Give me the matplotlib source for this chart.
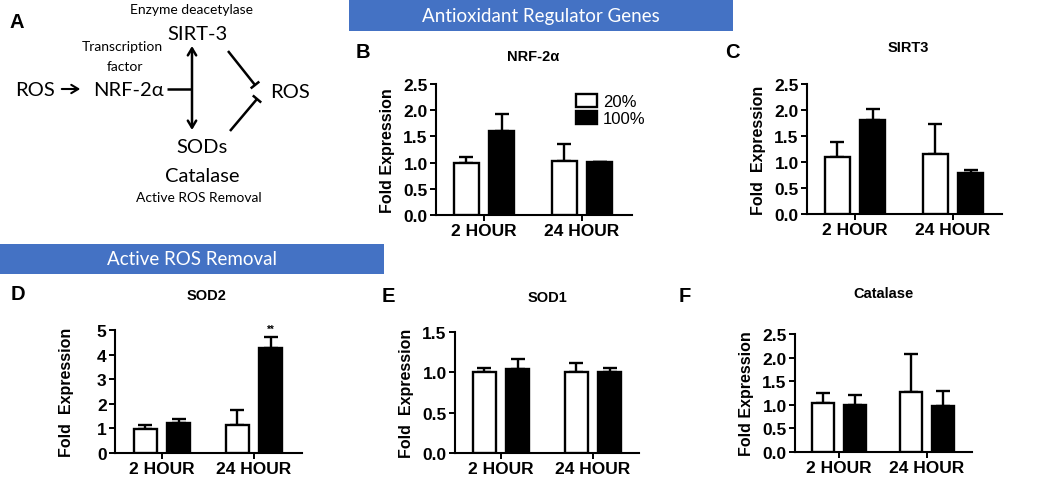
import numpy as np
import matplotlib
matplotlib.use("Agg")
import matplotlib.pyplot as plt
from matplotlib.patches import Rectangle

# ---------------- data ----------------
groups = ["2 HOUR", "24 HOUR"]
series_names = ["20%", "100%"]

nrf2_20 = [1.00, 1.04]
nrf2_20_err = [0.11, 0.32]
nrf2_100 = [1.60, 1.01]
nrf2_100_err = [0.33, 0.01]

sirt3_20 = [1.09, 1.15]
sirt3_20_err = [0.30, 0.59]
sirt3_100 = [1.81, 0.79]
sirt3_100_err = [0.21, 0.06]

sod2_20 = [0.99, 1.14]
sod2_20_err = [0.16, 0.61]
sod2_100 = [1.22, 4.25]
sod2_100_err = [0.18, 0.48]

sod1_20 = [1.00, 1.01]
sod1_20_err = [0.05, 0.11]
sod1_100 = [1.04, 1.01]
sod1_100_err = [0.125, 0.04]

cat_20 = [1.035, 1.27]
cat_20_err = [0.205, 0.81]
cat_100 = [0.99, 0.965]
cat_100_err = [0.22, 0.335]

ticks_25 = [0.0, 0.5, 1.0, 1.5, 2.0, 2.5]
ticks_15 = [0.0, 0.5, 1.0, 1.5]
ticks_5 = [0, 1, 2, 3, 4, 5]

# ---------------- figure ----------------
W, H = 1050, 485
fig = plt.figure(figsize=(W / 100, H / 100), dpi=100)
fig.patch.set_facecolor("white")

ov = fig.add_axes([0, 0, 1, 1])
ov.set_xlim(0, W)
ov.set_ylim(H, 0)
ov.axis("off")

BLUE = "#4472C4"
DFONT = "Lato"
BFONT = "Liberation Sans"

# banners
ov.add_patch(Rectangle((349, 1), 384, 31, facecolor=BLUE, edgecolor="none"))
ov.text(541, 16.5, "Antioxidant Regulator Genes", color="white", fontsize=13.5,
        family=DFONT, ha="center", va="center")
ov.add_patch(Rectangle((0, 245), 384, 30, facecolor=BLUE, edgecolor="none"))
ov.text(192, 260, "Active ROS Removal", color="white", fontsize=13.5,
        family=DFONT, ha="center", va="center")

# panel letters
for lab, x, y in [("A", 17, 22), ("B", 363, 52), ("C", 732, 53),
                  ("D", 18, 295), ("E", 388, 297), ("F", 685, 297)]:
    ov.text(x, y, lab, fontsize=14.5, fontweight="bold", family=BFONT,
            ha="center", va="center")

# ---------------- diagram A ----------------
def dtext(x, y, s, size):
    ov.text(x, y, s, fontsize=size, family=DFONT, ha="center", va="center")

dtext(192, 10, "Enzyme deacetylase", 10)
dtext(197, 34, "SIRT-3", 14.5)
dtext(122, 47, "Transcription", 10)
dtext(125, 67, "factor", 10)
dtext(35, 90, "ROS", 14.5)
dtext(128, 90, "NRF-2\u03b1", 14.5)
dtext(290, 93, "ROS", 14.5)
dtext(202, 148, "SODs", 14.5)
dtext(202, 177, "Catalase", 14.5)
dtext(199, 198, "Active ROS Removal", 10)

LW = 1.8
ov.annotate("", xy=(83, 90), xytext=(59, 90),
            arrowprops=dict(arrowstyle="->,head_length=0.5,head_width=0.3", lw=1.5, color="k"))
ov.plot([167, 192], [90, 90], color="k", lw=LW, solid_capstyle="butt")
ov.annotate("", xy=(192, 47), xytext=(192, 131),
            arrowprops=dict(arrowstyle="<->,head_length=0.5,head_width=0.3", lw=LW, color="k",
                            shrinkA=0, shrinkB=0))

def inhibit(p0, p1, half=5.5):
    p0 = np.array(p0, float)
    p1 = np.array(p1, float)
    d = (p1 - p0) / np.linalg.norm(p1 - p0)
    n = np.array([-d[1], d[0]])
    ov.plot([p0[0], p1[0]], [p0[1], p1[1]], color="k", lw=LW, solid_capstyle="butt")
    a, b = p1 + n * half, p1 - n * half
    ov.plot([a[0], b[0]], [a[1], b[1]], color="k", lw=LW, solid_capstyle="butt")

inhibit((228, 52), (255, 86))
inhibit((230, 132), (257, 100))

# ---------------- bar panels ----------------
def px_axes(l, t, r, b):
    return fig.add_axes([l / W, 1 - b / H, (r - l) / W, (b - t) / H])

def panel(box, gpx, v20, e20, v100, e100, ticks, fmt, ylabel, legend=False):
    l, t, r, b = box
    g0, g1 = gpx
    ax = px_axes(l, t, r, b)
    ax.set_xlim((l - g0) / (g1 - g0), (r - g0) / (g1 - g0))
    ax.set_ylim(ticks[0], ticks[-1])
    x = np.arange(len(groups))
    off, w = 0.18, 0.25
    b1 = ax.bar(x - off, v20, w, color="white", edgecolor="black", linewidth=1.7,
                zorder=3, label=series_names[0])
    b2 = ax.bar(x + off, v100, w, color="black", edgecolor="black", linewidth=1.7,
                zorder=3, label=series_names[1])
    ax.errorbar(x - off, v20, yerr=[np.zeros(len(v20)), e20], fmt="none", ecolor="k",
                elinewidth=1.7, capsize=5, capthick=1.7, zorder=2)
    ax.errorbar(x + off, v100, yerr=[np.zeros(len(v100)), e100], fmt="none", ecolor="k",
                elinewidth=1.7, capsize=5, capthick=1.7, zorder=2)
    ax.set_xticks(x)
    ax.set_xticklabels(groups)
    ax.set_yticks(ticks)
    ax.set_yticklabels([fmt.format(v) for v in ticks])
    for s in ["top", "right"]:
        ax.spines[s].set_visible(False)
    for s in ["left", "bottom"]:
        ax.spines[s].set_linewidth(1.5)
    ax.tick_params(direction="out", length=4, width=1.4, pad=2)
    for lab in ax.get_xticklabels() + ax.get_yticklabels():
        lab.set_fontfamily(BFONT)
        lab.set_fontweight("bold")
        lab.set_fontsize(12.5)
    ax.set_ylabel(ylabel, fontsize=11.5, fontweight="bold", family=BFONT)
    ax.yaxis.set_label_coords(-41 / (r - l), 0.5)
    ax.patch.set_alpha(0)
    if legend:
        ax.legend(handles=[b1, b2], loc="upper left",
                  bbox_to_anchor=(576 / W, 1 - 95 / H), bbox_transform=fig.transFigure,
                  frameon=False, borderpad=0, borderaxespad=0, handlelength=1.25,
                  handleheight=0.85, handletextpad=0.35, labelspacing=0.1,
                  prop=dict(family=BFONT, size=12))
    return ax

axB = panel((436, 85, 632, 216), (484, 582), nrf2_20, nrf2_20_err, nrf2_100, nrf2_100_err,
            ticks_25, "{:.1f}", "Fold Expression", legend=True)
axC = panel((807, 85, 1002, 215), (855, 953), sirt3_20, sirt3_20_err, sirt3_100, sirt3_100_err,
            ticks_25, "{:.1f}", "Fold  Expression")
axD = panel((115, 331, 302, 454), (162, 254), sod2_20, sod2_20_err, sod2_100, sod2_100_err,
            ticks_5, "{:d}", "Fold  Expression")
axE = panel((455, 333, 639, 454), (501, 593), sod1_20, sod1_20_err, sod1_100, sod1_100_err,
            ticks_15, "{:.1f}", "Fold  Expression")
axF = panel((795, 335, 972, 453), (839, 927), cat_20, cat_20_err, cat_100, cat_100_err,
            ticks_25, "{:.1f}", "Fold Expression")

axD.text(1 + 0.18, sod2_100[1] + sod2_100_err[1] + 0.12, "**", ha="center", va="bottom",
         fontsize=7, fontweight="bold", family=BFONT)

# titles
for s, x, y in [("NRF-2\u03b1", 533, 57), ("SIRT3", 908, 48), ("SOD2", 207, 296),
                ("SOD1", 547, 298), ("Catalase", 883, 294)]:
    ov.text(x, y, s, fontsize=10.5, fontweight="bold", family=BFONT, ha="center", va="center")

fig.savefig("out.png", dpi=100, facecolor="white")
